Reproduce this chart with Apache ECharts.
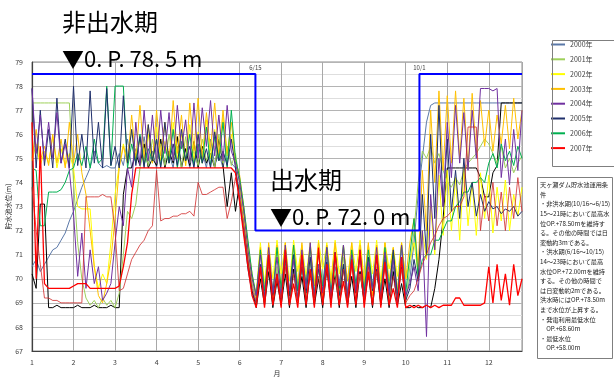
<!DOCTYPE html>
<html><head><meta charset="utf-8">
<script src="https://cdn.jsdelivr.net/npm/echarts@6/dist/echarts.min.js"></script>
<style>html,body{margin:0;padding:0;background:#fff}#c{width:614px;height:381px}</style>
</head><body><div id="c"></div>
<script>
const months = [
1.0,1.1,1.2,1.3,1.4,1.5,1.6,1.7,1.8,1.9,
2.0,2.1,2.2,2.3,2.4,2.5,2.6,2.7,2.8,2.9,
3.0,3.1,3.2,3.3,3.4,3.5,3.6,3.7,3.8,3.9,
4.0,4.1,4.2,4.3,4.4,4.5,4.6,4.7,4.8,4.9,
5.0,5.1,5.2,5.3,5.4,5.5,5.6,5.7,5.8,5.9,
6.0,6.1,6.2,6.3,6.4,6.5,6.6,6.7,6.8,6.9,
7.0,7.1,7.2,7.3,7.4,7.5,7.6,7.7,7.8,7.9,
8.0,8.1,8.2,8.3,8.4,8.5,8.6,8.7,8.8,8.9,
9.0,9.1,9.2,9.3,9.4,9.5,9.6,9.7,9.8,9.9,
10.0,10.1,10.2,10.3,10.4,10.5,10.6,10.7,10.8,10.9,
11.0,11.1,11.2,11.3,11.4,11.5,11.6,11.7,11.8,11.9,
12.0,12.1,12.2,12.3,12.4,12.5,12.6,12.7,12.8];

const y2000 = [
70.5,70.8,70.3,70.6,70.9,71.2,71.3,71.6,71.9,72.4,
72.8,73.3,73.8,74.2,74.6,75.3,74.8,74.6,74.7,74.6,
74.6,75.2,74.7,75.8,74.6,75.4,74.8,75.9,74.7,75.3,
74.6,75.7,74.8,75.2,74.6,75.9,74.7,75.4,74.6,75.6,
74.8,75.3,74.6,75.8,74.7,75.2,74.6,75.5,74.8,74.6,
73.6,72.4,71.0,69.8,69.1,70.5,69.3,70.7,69.0,70.3,
69.4,70.6,69.1,70.8,69.5,70.4,69.2,70.7,69.0,70.5,
69.3,70.9,69.1,70.5,69.4,70.6,69.2,70.8,69.5,70.3,
69.1,70.7,69.3,70.4,69.0,70.8,69.4,70.5,69.2,70.6,
69.2,70.0,71.5,73.5,75.0,76.5,77.2,77.3,77.3,77.3,
77.3,77.3,77.3,77.3,77.3,77.3,77.3,77.3,77.3,77.3,
77.3,77.3,77.3,77.3,77.3,77.3,77.3,77.3,77.3];

const y1999 = [
70.2,69.6,73.1,73.1,68.8,68.8,68.9,68.8,68.8,68.8,
68.8,68.9,68.8,68.8,68.8,68.9,68.8,68.8,68.8,68.9,
68.8,68.8,73.5,74.6,74.6,75.2,74.7,75.6,74.6,75.0,
74.7,75.8,74.6,75.3,74.8,75.9,74.6,75.4,74.7,75.7,
74.6,75.5,74.8,75.2,74.6,75.8,74.7,73.0,74.4,72.8,
74.0,72.6,70.8,69.5,68.8,70.0,68.9,70.3,68.8,69.9,
68.9,70.2,68.8,70.4,69.0,70.1,68.8,70.3,68.9,70.0,
68.8,70.4,69.0,70.2,68.8,70.5,68.9,70.1,68.8,70.3,
69.0,70.2,68.8,70.4,68.9,70.0,68.8,70.3,68.9,69.8,
68.8,68.8,68.9,68.8,68.8,68.9,68.8,69.6,70.8,72.5,
74.6,74.6,74.6,74.6,74.6,74.6,74.6,74.6,74.2,73.4,
73.4,74.4,74.7,77.3,77.3,77.3,77.3,77.3,77.3];

const y2001 = [
77.3,77.3,77.3,77.3,77.3,77.3,77.3,77.3,77.3,77.3,
74.0,71.5,70.0,69.2,68.9,69.1,68.8,69.2,68.9,69.1,
68.8,69.4,71.0,72.8,72.5,73.1,74.6,75.4,74.7,75.8,
74.8,75.6,74.7,76.0,74.9,75.5,74.6,75.9,74.8,75.3,
74.7,75.8,74.9,75.4,74.6,76.0,74.8,75.5,74.7,75.2,
74.0,72.8,71.0,69.8,69.2,70.4,69.0,70.7,69.3,70.5,
69.1,70.6,69.4,70.9,69.0,70.5,69.3,70.8,69.2,70.4,
69.0,70.7,69.5,70.3,69.2,70.9,69.1,70.6,69.4,70.2,
69.3,70.8,69.0,70.5,69.4,70.7,69.1,70.9,69.2,70.6,
69.0,70.5,72.0,74.0,75.3,75.0,75.5,74.8,75.2,74.5,
74.0,73.8,74.2,73.9,74.5,74.8,75.0,75.2,75.5,75.8,
75.6,75.2,74.8,75.5,74.6,75.0,74.4,74.8,75.1];

const y2002 = [
74.9,75.6,74.7,75.3,74.8,75.9,74.6,75.4,74.7,75.2,
74.6,73.0,72.9,72.9,72.9,70.5,69.6,70.2,69.8,71.5,
73.5,74.7,75.6,74.8,76.2,74.9,75.8,74.7,76.0,74.8,
76.3,74.9,75.7,74.8,76.5,75.0,76.0,74.7,76.4,74.9,
76.1,74.8,76.6,75.0,76.2,74.9,76.7,75.1,76.0,74.8,
74.0,72.5,71.2,70.0,69.4,71.5,69.8,71.4,70.0,71.6,
70.2,71.5,69.9,71.6,70.3,71.4,70.1,71.5,69.8,71.6,
70.4,71.5,70.0,71.6,70.2,71.4,69.9,71.5,70.3,71.6,
70.0,71.4,70.2,71.6,69.9,71.5,70.4,71.3,70.1,71.5,
70.0,70.8,71.5,70.2,72.0,70.8,73.0,71.0,74.3,71.8,
74.5,72.0,74.2,71.6,74.6,72.2,74.0,71.8,74.4,72.5,
74.3,71.9,73.8,72.4,74.1,72.0,73.5,72.6,73.8];

const y2003 = [
75.0,76.2,74.9,75.5,74.7,76.0,74.8,75.8,74.6,76.5,
74.8,76.0,74.4,73.5,72.0,70.5,69.3,69.0,69.8,70.8,
72.5,74.6,75.5,74.8,76.8,74.9,77.2,75.0,76.4,74.8,
77.0,75.1,76.5,74.9,77.4,75.2,76.8,74.7,77.3,75.3,
77.5,75.0,76.9,75.4,77.3,75.1,77.0,75.2,76.5,74.9,
74.3,73.0,71.5,70.2,69.2,71.3,69.5,71.5,69.2,71.4,
69.6,71.5,69.3,71.4,69.8,71.5,69.4,71.3,69.7,71.5,
69.3,71.4,69.8,71.5,69.5,71.2,69.9,71.5,69.4,71.4,
69.8,71.5,69.3,71.4,69.6,71.5,69.9,71.3,69.5,71.5,
70.0,71.5,72.5,70.5,74.5,72.0,77.0,74.0,77.8,74.5,
77.6,74.8,77.8,75.0,77.5,74.6,77.7,75.2,77.4,75.5,
77.0,75.3,76.8,75.6,77.2,75.4,77.5,75.8,77.0];

const y2004 = [
77.9,75.2,76.8,74.9,76.5,75.0,76.9,74.8,75.6,74.5,
72.7,70.1,71.9,69.6,71.2,69.8,70.5,69.1,69.4,69.8,
71.5,73.0,72.2,74.6,73.8,76.5,74.7,77.0,74.9,76.8,
74.8,77.0,75.2,76.9,74.9,77.2,75.4,76.6,74.8,77.3,
75.0,77.1,75.5,77.4,75.1,76.8,74.9,77.2,75.3,74.8,
74.0,72.8,71.2,70.0,69.3,71.0,69.1,71.3,69.4,70.9,
69.2,71.4,69.5,70.8,69.1,71.2,69.6,71.5,69.3,70.6,
69.4,71.3,69.2,70.9,69.7,71.4,69.3,71.0,69.5,71.2,
69.1,70.7,69.6,71.3,69.2,71.1,69.4,70.8,69.0,71.4,
69.3,69.8,70.5,69.5,72.0,67.6,73.5,71.2,75.0,73.0,
76.5,74.2,77.2,74.8,76.9,74.5,77.0,75.0,77.9,77.9,
77.9,77.8,77.9,74.2,75.8,73.9,76.2,74.5,77.0];

const y2005 = [
77.9,74.6,77.0,74.7,76.2,74.6,77.5,74.8,75.8,74.6,
78.0,74.7,76.0,74.6,77.8,74.8,76.5,74.6,77.9,74.7,
75.5,74.6,77.6,74.8,76.2,74.7,75.9,74.6,76.4,74.9,
75.8,74.6,76.5,74.8,75.6,74.7,76.2,74.9,75.5,74.6,
76.0,74.8,75.4,74.6,76.1,74.9,75.3,74.7,75.8,74.6,
73.2,72.0,70.4,69.4,69.0,70.6,69.2,70.9,69.3,70.2,
69.0,70.8,69.3,71.0,69.1,70.5,69.4,70.9,69.2,70.4,
69.5,70.7,69.1,71.1,69.3,70.6,69.0,70.8,69.4,71.0,
69.2,70.9,69.5,70.4,69.1,70.8,69.3,71.2,69.2,70.5,
69.1,69.6,70.8,69.9,73.5,71.0,76.0,72.5,77.2,73.0,
75.8,72.8,74.5,72.5,75.0,73.0,74.0,72.6,73.5,72.8,
73.2,72.9,73.0,72.7,72.9,72.8,73.0,72.6,72.8];

const y2006 = [
74.6,74.5,72.2,72.2,73.6,73.6,73.6,73.7,74.0,74.5,
74.6,75.2,74.7,75.5,74.6,75.8,74.8,75.0,78.0,74.7,
78.0,78.0,78.0,74.6,75.6,74.8,76.0,74.7,75.4,74.9,
75.8,74.7,75.5,74.8,76.2,74.6,75.7,74.9,76.0,74.7,
75.6,74.8,76.3,74.7,75.9,74.9,76.5,74.6,77.0,75.0,
74.2,73.0,71.6,70.2,69.3,71.2,69.5,71.0,69.4,71.3,
69.6,71.2,69.3,71.4,69.5,71.0,69.8,71.3,69.4,71.1,
69.7,71.3,69.4,71.1,69.6,71.4,69.3,71.2,69.8,71.0,
69.5,71.2,69.7,71.0,69.4,71.3,69.6,71.1,69.3,71.4,
69.4,71.0,72.5,70.0,70.8,71.0,71.0,71.6,71.6,72.0,
72.4,72.4,73.0,73.2,73.6,73.6,74.0,74.0,74.2,74.0,
74.8,75.2,74.6,75.6,74.9,75.3,74.7,75.5,75.0];

const y2007 = [
76.5,70.0,75.5,69.8,69.6,69.6,69.6,69.6,69.6,69.6,
69.7,69.8,69.8,69.8,69.6,69.6,69.6,69.6,69.6,69.6,
69.6,69.7,70.5,71.5,73.5,74.6,74.6,74.6,74.6,74.6,
74.6,74.6,74.6,74.6,74.6,74.6,74.6,74.6,74.6,74.6,
74.6,74.6,74.6,74.6,74.6,74.6,74.6,74.6,74.6,74.4,
73.2,71.8,70.5,69.3,68.8,70.5,68.8,71.0,68.9,70.2,
68.8,71.2,68.9,69.8,68.8,71.0,68.9,70.4,68.8,71.3,
68.9,70.6,68.8,71.1,68.9,69.9,68.8,70.8,68.9,71.2,
68.8,70.3,68.9,71.0,68.8,70.7,68.9,69.6,68.8,70.9,
68.8,68.9,68.8,68.9,68.8,68.9,68.8,68.9,68.8,68.9,
68.9,68.9,69.2,69.2,68.9,68.9,68.9,68.9,68.9,69.0,
70.5,69.0,70.6,69.1,70.2,68.9,70.6,69.3,70.0];

const yOther = [
73.8,72.0,70.6,69.2,69.2,69.1,69.1,69.0,69.0,69.0,
69.0,69.0,69.0,73.4,73.4,73.4,73.4,73.5,73.4,73.4,
72.0,69.5,69.6,70.2,70.8,71.1,71.4,71.6,72.0,72.2,
74.5,72.4,72.5,72.5,72.6,72.6,72.7,72.7,72.8,72.6,
74.0,73.5,73.5,73.6,73.7,73.8,73.8,72.5,73.2,74.2,
73.4,72.2,70.8,69.6,69.0,70.3,69.1,70.6,68.9,70.0,
69.2,70.5,68.9,70.2,69.1,70.7,69.0,70.3,69.2,70.1,
69.0,70.6,69.2,70.0,68.9,70.4,69.1,70.7,69.0,70.2,
69.1,70.5,68.9,70.3,69.2,70.6,69.0,70.1,69.1,70.4,
69.0,69.3,69.5,70.0,70.6,71.0,71.5,71.8,72.2,72.5,
72.6,72.8,73.0,73.0,73.4,76.3,76.3,76.3,72.0,73.5,
72.4,74.0,72.2,73.6,72.0,73.8,72.5,74.2,72.8];

// operating-rule line (max water level) and its date labels
const ruleX = [1, 6.38, 6.38, 10.33, 10.33, 12.8];
const ruleY = [78.5, 78.5, 72.0, 72.0, 78.5, 78.5];
const ruleLabels = [{x: 6.38, y: 78.5, t: '6/15'}, {x: 10.33, y: 78.5, t: '10/1'}];

const yearNames = ['2000年','2001年','2002年','2003年','2004年','2005年','2006年','2007年'];
const noteLines = [
'天ヶ瀬ダム貯水池運用条','件',
'・非洪水期(10/16～6/15)','15～21時において最高水','位OP.+78.50mを維持す','る。その他の時間では日','変動約3mである。',
'・洪水期(6/16～10/15)','14～23時において最高','水位OP.+72.00mを維持','する。その他の時間で','は日変動約2mである。','洪水時にはOP.+78.50m','まで水位が上昇する。',
'・発電利用最低水位','　OP.+68.60m','・最低水位','　OP.+58.00m'];

const FONT = '"Noto Sans CJK JP", "Noto Sans", sans-serif';
const pairs = arr => months.map((m, i) => [m, arr[i]]);

function ln(name, data, color, width, z) {
  return {type: 'line', name: name, data: pairs(data), symbol: 'none', z: z,
    lineStyle: {color: color, width: width}, itemStyle: {color: color}, animation: false};
}

const chart = echarts.init(document.getElementById('c'), null, {renderer: 'canvas'});
chart.setOption({
  animation: false,
  textStyle: {fontFamily: FONT},
  grid: {left: 32, top: 62, right: 92, bottom: 30, containLabel: false, outerBoundsMode: 'none',
    show: true, borderColor: '#8c8c8c', borderWidth: 1},
  xAxis: {type: 'value', min: 1, max: 12.8, interval: 1,
    name: '月', nameLocation: 'middle', nameGap: 19, nameMoveOverlap: false, nameTextStyle: {fontSize: 7, color: '#333'},
    axisLine: {lineStyle: {color: '#404040', width: 1.2}}, axisTick: {show: false},
    axisLabel: {fontSize: 7, color: '#404040', margin: 8, showMaxLabel: false},
    splitLine: {show: true, lineStyle: {color: '#a8a8a8', width: 1}}},
  yAxis: {type: 'value', min: 67, max: 79, interval: 1,
    name: '貯水池水位(m)', nameLocation: 'middle', nameGap: 20, nameMoveOverlap: false, nameTextStyle: {fontSize: 7, color: '#222'},
    axisLine: {show: true, lineStyle: {color: '#404040', width: 1.2}}, axisTick: {show: false},
    axisLabel: {fontSize: 7, color: '#404040', margin: 9},
    splitLine: {show: true, lineStyle: {color: '#b4b4b4', width: 1}},
    minorTick: {show: false, splitNumber: 2},
    minorSplitLine: {show: true, lineStyle: {color: '#dedede', width: 1}}},
  legend: {data: yearNames, orient: 'vertical', left: 551, top: 41, itemWidth: 14, itemHeight: 2,
    itemGap: 7.8, icon: 'rect', padding: 0, textStyle: {fontSize: 7, color: '#404040'}},
  series: [
    ln('2000年', y2000, '#5a78a8', 1, 2),
    ln('1999年', y1999, '#000000', 1, 3),
    ln('2001年', y2001, '#9ed05a', 1, 4),
    ln('2002年', y2002, '#ffff00', 1, 5),
    ln('2003年', y2003, '#ffc000', 1, 6),
    ln('2006年', y2006, '#00b050', 1, 7),
    ln('2005年', y2005, '#1f2f6b', 1, 8),
    ln('2004年', y2004, '#7030a0', 1, 9),
    ln('その他', yOther, '#d02828', 0.8, 10),
    ln('2007年', y2007, '#ff0000', 1.3, 11),
    {type: 'line', name: 'rule', data: ruleX.map((x, i) => [x, ruleY[i]]), symbol: 'none', z: 12,
      lineStyle: {color: '#0000ff', width: 2}, animation: false,
      markPoint: {symbol: 'circle', symbolSize: 0, animation: false,
        label: {show: true, position: 'top', distance: 3, fontSize: 6, color: '#404040', formatter: p => p.name},
        data: ruleLabels.map(r => ({name: r.t, coord: [r.x, r.y]}))}}
  ],
  graphic: [
    {type: 'text', left: 62, top: 10, z: 50, style: {text: '非出水期', fill: '#000', font: '24px ' + FONT}},
    {type: 'text', left: 62, top: 48, z: 50, style: {text: '▼0. P. 78. 5 m', fill: '#000', font: '22px ' + FONT}},
    {type: 'text', left: 270, top: 168, z: 50, style: {text: '出水期', fill: '#000', font: '24px ' + FONT}},
    {type: 'text', left: 270, top: 206, z: 50, style: {text: '▼0. P. 72. 0 m', fill: '#000', font: '22px ' + FONT}},
    {type: 'rect', left: 550, top: 38, z: 40, shape: {width: 62, height: 126}, style: {fill: 'none', stroke: '#7f7f7f', lineWidth: 1}},
    {type: 'rect', left: 537, top: 177, z: 40, shape: {width: 75, height: 181}, style: {fill: '#fff', stroke: '#7f7f7f', lineWidth: 1}},
    {type: 'text', left: 540, top: 180, z: 41, style: {text: noteLines.join('\n'), fill: '#222', font: '6.2px ' + FONT, lineHeight: 9.6}}
  ]
});
</script>
</body></html>
